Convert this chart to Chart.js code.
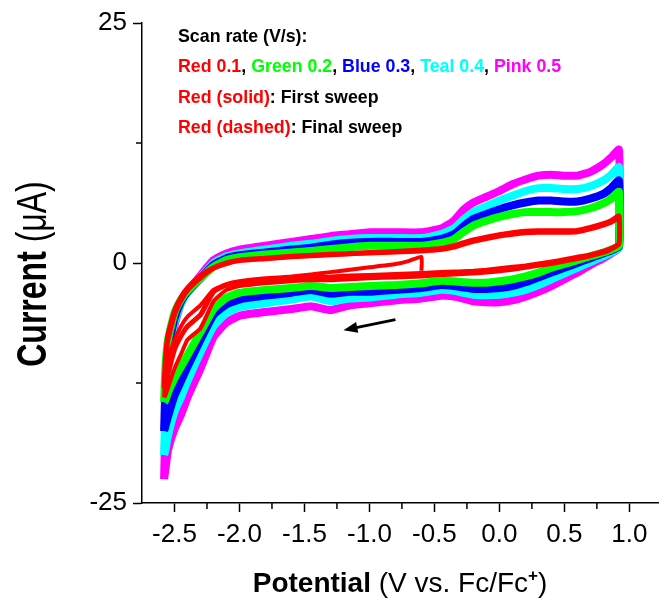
<!DOCTYPE html>
<html><head><meta charset="utf-8">
<script src="https://cdn.jsdelivr.net/npm/chart.js@4.4.1/dist/chart.umd.min.js"></script>
<style>html,body{margin:0;padding:0;background:#fff;}canvas{display:block;}</style>
</head><body>
<canvas id="c" width="659" height="604"></canvas>
<script>
// Potential grid (V vs Fc/Fc+)
const potential = [-2.58,-2.57,-2.55,-2.5,-2.45,-2.4,-2.3,-2.2,-2.1,-2.0,-1.8,-1.6,-1.45,-1.3,-1.15,-1.0,-0.8,-0.6,-0.45,-0.35,-0.28,-0.2,-0.1,0.0,0.1,0.2,0.3,0.4,0.5,0.6,0.7,0.8,0.86,0.92];
// Currents (uA): upper = positive-going sweep, lower = negative-going sweep
const pinkUpper  = [-22.5,-17,-11,-6.5,-4.2,-3.0,-1.3,0.3,1.0,1.4,1.8,2.2,2.5,2.8,3.0,3.2,3.2,3.2,3.6,4.4,5.5,6.3,6.9,7.5,8.2,8.7,9.1,9.2,9.1,9.1,9.5,10.3,11.0,11.8];
const pinkLower  = [-22.5,-21.5,-19.5,-17.3,-15.8,-14.0,-11.0,-7.7,-6.2,-5.5,-5.1,-4.8,-4.5,-4.9,-4.4,-4.2,-3.9,-3.7,-3.4,-3.5,-3.7,-4.0,-4.1,-4.1,-3.9,-3.5,-3.0,-2.4,-1.7,-1.0,-0.2,0.5,1.0,1.6];
const tealUpper  = [-20,-15,-10,-6.2,-4.2,-3.1,-1.5,0.0,0.7,1.0,1.4,1.8,2.0,2.3,2.5,2.6,2.6,2.6,3.0,3.6,4.5,5.3,5.9,6.5,7.0,7.5,7.8,7.8,7.7,7.7,8.0,8.6,9.2,10.0];
const tealLower  = [-20,-19.5,-18,-15.5,-14,-12.3,-9.3,-6.6,-5.2,-4.6,-4.2,-3.8,-3.5,-4.0,-3.7,-3.6,-3.3,-3.1,-2.8,-2.9,-3.1,-3.3,-3.35,-3.3,-3.1,-2.8,-2.3,-1.7,-1.1,-0.5,0.1,0.7,1.1,1.6];
const blueUpper  = [-17.5,-13,-9,-5.8,-4.0,-3.0,-1.6,-0.2,0.5,0.8,1.1,1.4,1.6,1.9,2.1,2.2,2.2,2.2,2.5,3.0,3.8,4.6,5.1,5.6,6.0,6.3,6.5,6.5,6.4,6.4,6.7,7.2,7.8,8.6];
const blueLower  = [-17.5,-17,-16,-13.8,-12.3,-10.8,-8.0,-5.4,-4.3,-3.8,-3.4,-3.1,-2.8,-3.2,-3.0,-3.0,-2.8,-2.6,-2.3,-2.4,-2.55,-2.7,-2.7,-2.6,-2.4,-2.0,-1.5,-1.0,-0.5,0.0,0.5,1.0,1.3,1.7];
const greenUpper = [-14.5,-11,-8,-5.2,-3.8,-2.9,-1.6,-0.4,0.3,0.6,0.9,1.1,1.25,1.45,1.65,1.8,1.8,1.8,2.1,2.5,3.2,3.9,4.4,4.8,5.1,5.3,5.3,5.3,5.3,5.4,5.7,6.2,6.7,7.4];
const greenLower = [-14.5,-14.3,-13.5,-12.0,-10.8,-9.6,-7.2,-4.8,-3.6,-3.1,-2.8,-2.6,-2.4,-2.6,-2.5,-2.4,-2.3,-2.1,-1.85,-1.9,-2.0,-2.05,-2.05,-1.9,-1.7,-1.4,-1.0,-0.5,-0.1,0.3,0.7,1.1,1.4,1.8];
const redUpper   = [-13,-10,-7.5,-5.0,-3.6,-2.6,-1.3,-0.5,0.0,0.3,0.5,0.7,0.8,0.9,1.0,1.1,1.2,1.35,1.5,1.8,2.1,2.4,2.7,2.95,3.15,3.3,3.35,3.35,3.35,3.4,3.7,4.1,4.4,4.9];
const redLower   = [-13,-12.6,-11.5,-9.0,-7.6,-6.6,-5.4,-3.0,-2.3,-2.0,-1.8,-1.6,-1.5,-1.45,-1.35,-1.3,-1.2,-1.1,-1.0,-0.95,-0.9,-0.85,-0.75,-0.6,-0.45,-0.3,-0.1,0.1,0.35,0.6,0.85,1.2,1.5,2.0];
const redUpper2  = [-14,-11,-8.2,-5.5,-4.0,-2.9,-1.6,-0.6,-0.1,0.2,0.4,0.6,0.7,0.8,0.9,1.0,1.1,1.2,1.35,1.6,1.9,2.2,2.5,2.75,2.95,3.1,3.15,3.15,3.15,3.2,3.5,3.9,4.2,4.6];
const redLower2  = [-14,-13.8,-13,-11,-9.5,-8.0,-6.8,-4.0,-2.8,-2.4,-2.1,-1.9,-1.8,-1.8,-1.7,-1.6,-1.5,-1.4,-1.25,-1.2,-1.15,-1.1,-1.0,-0.85,-0.7,-0.5,-0.3,-0.1,0.15,0.4,0.7,1.05,1.4,2.0];
// First sweep (starts at -0.6 V, going negative)
const firstPotential = [-0.6,-0.6,-0.7,-0.8,-1.0,-1.15,-1.3,-1.45,-1.6,-1.8,-2.0,-2.1,-2.2,-2.3,-2.4,-2.45,-2.5,-2.55,-2.57,-2.58];
const firstCurrent   = [-0.8,0.65,0.2,-0.1,-0.45,-0.7,-0.95,-1.2,-1.4,-1.6,-1.9,-2.2,-2.8,-4.4,-5.6,-6.6,-8.0,-10.0,-11.2,-12.0];
// Axis ticks
const xMajorTicks = [-2.5,-2.0,-1.5,-1.0,-0.5,0.0,0.5,1.0];
const xMinorTicks = [-2.25,-1.75,-1.25,-0.75,-0.25,0.25,0.75];
const yMajorTicks = [-25,0,25];
const yMinorTicks = [-12.5,12.5];
// Scan direction arrow (data coords)
const arrowFrom = [-0.8, -5.9];
const arrowTo = [-1.2, -7.0];

const legendLines = [
  [["Scan rate (V/s):","#000000"]],
  [["Red 0.1","#ff0000"],[", ","#000000"],["Green 0.2","#00ff00"],[", ","#000000"],["Blue 0.3","#0000ff"],[", ","#000000"],["Teal 0.4","#00ffff"],[", ","#000000"],["Pink 0.5","#ff00ff"]],
  [["Red (solid)","#ff0000"],[": First sweep","#000000"]],
  [["Red (dashed)","#ff0000"],[": Final sweep","#000000"]]
];

function loop(upper, lower) {
  const pts = potential.map((v,i)=>({x:v,y:upper[i]}));
  for (let i = potential.length-1; i >= 0; i--) pts.push({x:potential[i], y:lower[i]});
  return pts;
}
function mk(label, data, color, w) {
  return {label, data, borderColor: color, backgroundColor: color, borderWidth: w, pointRadius: 0, tension: 0.15, fill: false, showLine: true};
}
const datasets = [
  mk('Red first', firstPotential.map((v,i)=>({x:v,y:firstCurrent[i]})), '#ff0000', 4),
  mk('Red 0.1', loop(redUpper, redLower), '#ff0000', 5),
  mk('Red 0.1 b', loop(redUpper2, redLower2), '#ff0000', 4),
  mk('Green 0.2', loop(greenUpper, greenLower), '#00ff00', 8),
  mk('Blue 0.3', loop(blueUpper, blueLower), '#0000ff', 8),
  mk('Teal 0.4', loop(tealUpper, tealLower), '#00ffff', 8),
  mk('Pink 0.5', loop(pinkUpper, pinkLower), '#ff00ff', 8)
];

const FONT = '"Liberation Sans", Arial, sans-serif';

const decor = {
  id: 'decor',
  afterDatasetsDraw(chart) {
    const ctx = chart.ctx, xs = chart.scales.x, ys = chart.scales.y;
    ctx.save();
    // minor ticks
    ctx.strokeStyle = '#000'; ctx.lineWidth = 1.5;
    xMinorTicks.forEach(v => { const px = xs.getPixelForValue(v); ctx.beginPath(); ctx.moveTo(px, ys.bottom); ctx.lineTo(px, ys.bottom + 6); ctx.stroke(); });
    yMinorTicks.forEach(v => { const py = ys.getPixelForValue(v); ctx.beginPath(); ctx.moveTo(xs.left, py); ctx.lineTo(xs.left - 6, py); ctx.stroke(); });
    // arrow
    const x1 = xs.getPixelForValue(arrowFrom[0]), y1 = ys.getPixelForValue(arrowFrom[1]);
    const x2 = xs.getPixelForValue(arrowTo[0]), y2 = ys.getPixelForValue(arrowTo[1]);
    const ang = Math.atan2(y2-y1, x2-x1);
    ctx.strokeStyle = '#000'; ctx.fillStyle = '#000'; ctx.lineWidth = 3;
    ctx.beginPath(); ctx.moveTo(x1,y1); ctx.lineTo(x2 - 8*Math.cos(ang), y2 - 8*Math.sin(ang)); ctx.stroke();
    ctx.beginPath();
    ctx.moveTo(x2, y2);
    ctx.lineTo(x2 - 14*Math.cos(ang) + 5.5*Math.sin(ang), y2 - 14*Math.sin(ang) - 5.5*Math.cos(ang));
    ctx.lineTo(x2 - 14*Math.cos(ang) - 5.5*Math.sin(ang), y2 - 14*Math.sin(ang) + 5.5*Math.cos(ang));
    ctx.closePath(); ctx.fill();
    // legend text
    ctx.textBaseline = 'alphabetic'; ctx.textAlign = 'left';
    ctx.font = 'bold 17.8px ' + FONT;
    const baselines = [42, 72, 103, 133];
    legendLines.forEach((runs, li) => {
      let x = 178;
      runs.forEach(([t,c]) => { ctx.fillStyle = c; ctx.fillText(t, x, baselines[li]); x += ctx.measureText(t).width; });
    });
    // x title
    const xRuns = [["Potential",'bold 28px ',0],[" (V vs. Fc/Fc",'28px ',0],["+",'bold 17px ',-11],[")",'28px ',0]];
    let tw = 0;
    xRuns.forEach(r => { ctx.font = r[1]+FONT; tw += ctx.measureText(r[0]).width; });
    let x = 400 - tw/2;
    ctx.fillStyle = '#000';
    xRuns.forEach(r => { ctx.font = r[1]+FONT; ctx.fillText(r[0], x, 592 + r[2]); x += ctx.measureText(r[0]).width; });
    // y title
    const yRuns = [["Current",'bold 32px ',0],[" (\u03bcA)",'32px ',0]];
    tw = 0;
    yRuns.forEach(r => { ctx.font = r[1]+FONT; tw += ctx.measureText(r[0]).width; });
    ctx.translate(46, 274);
    ctx.rotate(-Math.PI/2);
    ctx.scale(1, 1.3);
    let yx = -tw/2;
    yRuns.forEach(r => { ctx.font = r[1]+FONT; ctx.fillText(r[0], yx, 0); yx += ctx.measureText(r[0]).width; });
    ctx.restore();
  }
};

new Chart(document.getElementById('c'), {
  type: 'line',
  data: { datasets },
  options: {
    responsive: false, animation: false, devicePixelRatio: 1,
    layout: { padding: { left: 0, right: 0, top: 23, bottom: 0 } },
    plugins: { legend: { display: false }, tooltip: { enabled: false } },
    scales: {
      x: {
        type: 'linear', min: -2.75, max: 1.228,
        afterBuildTicks: s => { s.ticks = xMajorTicks.map(v => ({value: v})); },
        afterFit: s => { s.height = 101; },
        border: { display: true, color: '#000', width: 1.5 },
        grid: { display: true, drawOnChartArea: false, drawTicks: true, tickLength: 9, tickColor: '#000', tickWidth: 1.5 },
        ticks: { font: { family: FONT, size: 26 }, color: '#000', padding: 7, maxRotation: 0, autoSkip: false, callback: v => v.toFixed(1) }
      },
      y: {
        type: 'linear', min: -25, max: 25,
        afterBuildTicks: s => { s.ticks = yMajorTicks.map(v => ({value: v})); },
        afterFit: s => { s.width = 142; },
        border: { display: true, color: '#000', width: 1.5 },
        grid: { display: true, drawOnChartArea: false, drawTicks: true, tickLength: 9, tickColor: '#000', tickWidth: 1.5 },
        ticks: { font: { family: FONT, size: 26 }, color: '#000', padding: 6, callback: v => String(v) }
      }
    }
  },
  plugins: [decor]
});
</script>
</body></html>
